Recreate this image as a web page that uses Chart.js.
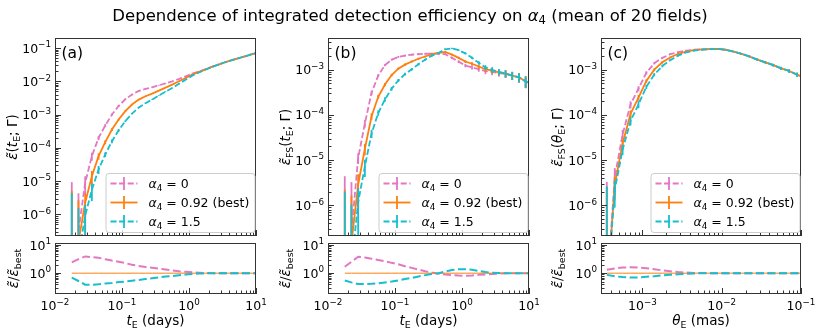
<!DOCTYPE html>
<html><head><meta charset="utf-8">
<script src="https://cdn.jsdelivr.net/npm/chart.js@4.4.0/dist/chart.umd.min.js"></script>
<style>
html,body{margin:0;padding:0;background:#fff;}
#wrap{position:relative;width:817px;height:329px;overflow:hidden;background:#fff;}
#wrap canvas{position:absolute;left:0;top:0;}
</style></head><body><div id="wrap"></div>
<script>
// ---------------- data ----------------
const tDays = [0.0178, 0.0224, 0.0282, 0.0355, 0.0447, 0.0562, 0.0708, 0.0891, 0.112, 0.141, 0.178, 0.224, 0.282, 0.355, 0.447, 0.562, 0.708, 0.891, 1.12, 1.41, 1.78, 2.24, 2.82, 3.55, 4.47, 5.62, 7.08, 8.91, 11.2];
const thetaMas = [3.55e-4, 4.47e-4, 5.62e-4, 7.08e-4, 8.91e-4, 1.12e-3, 1.41e-3, 1.78e-3, 2.24e-3, 2.82e-3, 3.55e-3, 4.47e-3, 5.62e-3, 7.08e-3, 8.91e-3, 1.12e-2, 1.41e-2, 1.78e-2, 2.24e-2, 2.82e-2, 3.55e-2, 4.47e-2, 5.62e-2, 7.08e-2, 8.91e-2, 0.112];

// panel (a): integrated efficiency vs tE
const effA_a0   = [null, 3.16e-7, 8.91e-6, 5.62e-5, 2.0e-4, 4.68e-4, 1.0e-3, 1.82e-3, 2.88e-3, 3.98e-3, 5.13e-3, 5.89e-3, 6.61e-3, 7.59e-3, 8.71e-3, 1.0e-2, 1.17e-2, 1.41e-2, 1.70e-2, 1.97e-2, 2.32e-2, 2.75e-2, 3.24e-2, 3.80e-2, 4.37e-2, 5.01e-2, 5.75e-2, 6.61e-2, 7.41e-2];
const effA_best = [null, 1.5e-7, 2.24e-6, 1.41e-5, 5.62e-5, 1.48e-4, 3.55e-4, 7.08e-4, 1.26e-3, 2.0e-3, 2.82e-3, 3.55e-3, 4.27e-3, 5.25e-3, 6.46e-3, 7.94e-3, 1.0e-2, 1.26e-2, 1.58e-2, 1.91e-2, 2.29e-2, 2.75e-2, 3.24e-2, 3.80e-2, 4.37e-2, 5.01e-2, 5.75e-2, 6.61e-2, 7.41e-2];
const effA_a15  = [null, 5.2e-8, 9.12e-7, 5.50e-6, 2.24e-5, 6.31e-5, 1.58e-4, 3.39e-4, 6.31e-4, 1.07e-3, 1.62e-3, 2.19e-3, 2.82e-3, 3.72e-3, 4.90e-3, 6.31e-3, 8.41e-3, 1.12e-2, 1.48e-2, 1.84e-2, 2.26e-2, 2.75e-2, 3.24e-2, 3.80e-2, 4.37e-2, 5.01e-2, 5.75e-2, 6.61e-2, 7.41e-2];
const errA_a0   = [9.3e-6, 4e-6, 5e-6, 1.5e-5, 3e-5, 5e-5, 8e-5, 1.2e-4, 1.5e-4, 1.6e-4, 1.8e-4, 2e-4, 2e-4, 2e-4, 2e-4, 2e-4, 2.3e-4, 2.8e-4, 3.4e-4, 4e-4, 5e-4, 6e-4, 7e-4, 9e-4, 1.1e-3, 1.3e-3, 1.6e-3, 2e-3, 2.5e-3];
const errA_best = [5e-6, 2.5e-6, 2e-6, 6e-6, 1.2e-5, 2e-5, 3.5e-5, 5e-5, 7e-5, 8e-5, 1e-4, 1.1e-4, 1.2e-4, 1.3e-4, 1.5e-4, 1.8e-4, 2.2e-4, 2.8e-4, 3.4e-4, 4e-4, 5e-4, 6e-4, 7e-4, 9e-4, 1.1e-3, 1.3e-3, 1.6e-3, 2e-3, 2.5e-3];
const errA_a15  = [4.3e-6, 1.5e-6, 1e-6, 3e-6, 6e-6, 1e-5, 2e-5, 3e-5, 4e-5, 5e-5, 6e-5, 7e-5, 8e-5, 1e-4, 1.2e-4, 1.5e-4, 2e-4, 2.6e-4, 3.2e-4, 4e-4, 5e-4, 6e-4, 7e-4, 9e-4, 1.1e-3, 1.3e-3, 1.6e-3, 2e-3, 2.5e-3];
const ratioA_a0   = [2.45, 3.16, 3.98, 3.72, 3.55, 3.16, 2.82, 2.57, 2.29, 2.0, 1.82, 1.66, 1.55, 1.45, 1.35, 1.26, 1.17, 1.12, 1.07, 1.035, 1.01, 1, 1, 1, 1, 1, 1, 1, 1];
const ratioA_best = [1, 1, 1, 1, 1, 1, 1, 1, 1, 1, 1, 1, 1, 1, 1, 1, 1, 1, 1, 1, 1, 1, 1, 1, 1, 1, 1, 1, 1];
const ratioA_a15  = [0.69, 0.525, 0.389, 0.38, 0.398, 0.427, 0.447, 0.479, 0.501, 0.537, 0.575, 0.617, 0.661, 0.708, 0.759, 0.794, 0.841, 0.891, 0.933, 0.966, 0.99, 1, 1, 1, 1, 1, 1, 1, 1];

// panel (b): finite-source efficiency vs tE
const effB_a0   = [null, 2.57e-7, 1.12e-5, 6.46e-5, 3.09e-4, 7.41e-4, 1.26e-3, 1.66e-3, 1.91e-3, 2.04e-3, 2.14e-3, 2.19e-3, 2.24e-3, 2.26e-3, 2.24e-3, 2.19e-3, 1.82e-3, 1.50e-3, 1.23e-3, 1.12e-3, 1.02e-3, 9.23e-4, 8.91e-4, 8.41e-4, 8.04e-4, 7.41e-4, 6.76e-4, 5.50e-4, 4.79e-4];
const effB_best = [null, 1.5e-7, 2.88e-6, 1.78e-5, 9.33e-5, 2.51e-4, 4.68e-4, 7.59e-4, 1.05e-3, 1.29e-3, 1.51e-3, 1.74e-3, 1.95e-3, 2.19e-3, 2.34e-3, 2.45e-3, 2.14e-3, 1.82e-3, 1.51e-3, 1.35e-3, 1.17e-3, 1.02e-3, 9.55e-4, 8.71e-4, 8.13e-4, 7.41e-4, 6.76e-4, 5.50e-4, 4.79e-4];
const effB_a15  = [null, 4.7e-8, 1.17e-6, 7.24e-6, 3.89e-5, 1.10e-4, 2.19e-4, 3.80e-4, 5.75e-4, 7.94e-4, 1.02e-3, 1.32e-3, 1.66e-3, 2.04e-3, 2.34e-3, 2.82e-3, 2.95e-3, 2.69e-3, 2.29e-3, 1.82e-3, 1.41e-3, 1.12e-3, 9.9e-4, 8.9e-4, 8.2e-4, 7.41e-4, 6.76e-4, 5.50e-4, 4.79e-4];
const errB_a0   = [4.4e-6, 3e-6, 3e-6, 1.2e-5, 3e-5, 5e-5, 7e-5, 8e-5, 9e-5, 1e-4, 1e-4, 1e-4, 1e-4, 1e-4, 1e-4, 1e-4, 1e-4, 1e-4, 1e-4, 1.1e-4, 1.2e-4, 1.3e-4, 1.4e-4, 1.4e-4, 1.5e-4, 1.5e-4, 1.6e-4, 1.6e-4, 1.6e-4];
const errB_best = [2.2e-6, 1.5e-6, 2e-6, 5e-6, 1.5e-5, 2.5e-5, 4e-5, 5e-5, 6e-5, 7e-5, 8e-5, 9e-5, 9e-5, 9e-5, 9e-5, 9e-5, 1e-4, 1e-4, 1e-4, 1.1e-4, 1.2e-4, 1.3e-4, 1.4e-4, 1.4e-4, 1.5e-4, 1.5e-4, 1.6e-4, 1.6e-4, 1.6e-4];
const errB_a15  = [2e-6, 1e-6, 1.2e-6, 3e-6, 8e-6, 1.5e-5, 2.5e-5, 3.5e-5, 4.5e-5, 5.5e-5, 6.5e-5, 7.5e-5, 8.5e-5, 1e-4, 1e-4, 1e-4, 1e-4, 1e-4, 1e-4, 1.1e-4, 1.2e-4, 1.3e-4, 1.4e-4, 1.4e-4, 1.5e-4, 1.5e-4, 1.6e-4, 1.6e-4, 1.6e-4];
const ratioB_a0   = [1.70, 2.57, 3.89, 3.63, 3.31, 2.95, 2.69, 2.34, 2.09, 1.78, 1.55, 1.35, 1.17, 1.05, 0.955, 0.891, 0.851, 0.822, 0.813, 0.832, 0.871, 0.902, 0.933, 0.966, 0.989, 1, 1, 1, 1];
const ratioB_best = [1, 1, 1, 1, 1, 1, 1, 1, 1, 1, 1, 1, 1, 1, 1, 1, 1, 1, 1, 1, 1, 1, 1, 1, 1, 1, 1, 1, 1];
const ratioB_a15  = [0.55, 0.468, 0.407, 0.407, 0.417, 0.437, 0.468, 0.501, 0.55, 0.617, 0.676, 0.759, 0.851, 0.933, 1.0, 1.148, 1.29, 1.38, 1.38, 1.32, 1.2, 1.096, 1.035, 1.01, 1, 1, 1, 1, 1];

// panel (c): finite-source efficiency vs thetaE
const effC_a0   = [1e-8, 4.17e-6, 3.72e-5, 1.70e-4, 3.80e-4, 8.51e-4, 1.38e-3, 1.82e-3, 2.19e-3, 2.45e-3, 2.63e-3, 2.75e-3, 2.82e-3, 2.85e-3, 2.88e-3, 2.75e-3, 2.51e-3, 2.24e-3, 1.95e-3, 1.66e-3, 1.45e-3, 1.26e-3, 1.07e-3, 9.33e-4, 7.76e-4, 6.61e-4];
const effC_best = [1e-8, 2.82e-6, 2.34e-5, 1.05e-4, 2.40e-4, 5.62e-4, 1.0e-3, 1.45e-3, 1.86e-3, 2.24e-3, 2.51e-3, 2.69e-3, 2.79e-3, 2.85e-3, 2.88e-3, 2.75e-3, 2.51e-3, 2.24e-3, 1.95e-3, 1.66e-3, 1.45e-3, 1.26e-3, 1.07e-3, 9.33e-4, 7.76e-4, 6.61e-4];
const effC_a15  = [1e-8, 2.19e-6, 1.70e-5, 7.33e-5, 1.70e-4, 4.17e-4, 7.76e-4, 1.20e-3, 1.62e-3, 2.04e-3, 2.40e-3, 2.63e-3, 2.75e-3, 2.85e-3, 2.88e-3, 2.75e-3, 2.51e-3, 2.24e-3, 1.95e-3, 1.66e-3, 1.45e-3, 1.26e-3, 1.07e-3, 9.33e-4, 7.76e-4, 6.61e-4];
const errC_a0   = [3.3e-6, 2.5e-6, 9e-6, 3e-5, 5e-5, 7e-5, 8e-5, 8e-5, 8e-5, 8e-5, 8e-5, 8e-5, 8e-5, 8e-5, 8e-5, 8e-5, 8e-5, 8e-5, 8e-5, 8e-5, 8e-5, 8e-5, 8e-5, 8e-5, 8e-5, 8e-5];
const errC_best = [2.5e-6, 1.5e-6, 5e-6, 2e-5, 3.5e-5, 5e-5, 7e-5, 8e-5, 8e-5, 8e-5, 8e-5, 8e-5, 8e-5, 8e-5, 8e-5, 8e-5, 8e-5, 8e-5, 8e-5, 8e-5, 8e-5, 8e-5, 8e-5, 8e-5, 8e-5, 8e-5];
const errC_a15  = [2.6e-6, 1.3e-6, 4e-6, 1.5e-5, 3e-5, 4.5e-5, 6e-5, 8e-5, 8e-5, 8e-5, 8e-5, 8e-5, 8e-5, 8e-5, 8e-5, 8e-5, 8e-5, 8e-5, 8e-5, 8e-5, 8e-5, 8e-5, 8e-5, 8e-5, 8e-5, 8e-5];
const ratioC_a0   = [1.32, 1.48, 1.58, 1.62, 1.58, 1.51, 1.38, 1.26, 1.17, 1.10, 1.05, 1.02, 1.01, 1, 1, 1, 1, 1, 1, 1, 1, 1, 1, 1, 1, 1];
const ratioC_best = [1, 1, 1, 1, 1, 1, 1, 1, 1, 1, 1, 1, 1, 1, 1, 1, 1, 1, 1, 1, 1, 1, 1, 1, 1, 1];
const ratioC_a15  = [0.87, 0.776, 0.724, 0.70, 0.708, 0.741, 0.776, 0.832, 0.871, 0.912, 0.955, 0.977, 0.99, 1, 1, 1, 1, 1, 1, 1, 1, 1, 1, 1, 1, 1];

// axis ranges
const xRangeT = [0.01, 10];
const xRangeTheta = [3.0e-4, 0.1];
const yRangeA = [2.24e-7, 0.2];
const yRangeBC = [2.1e-7, 5.0e-3];
const yRangeRatio = [0.18, 12];

// ---------------- text ----------------
const titleSegs = [{t:'Dependence of integrated detection efficiency on '},{t:'α',it:true},{t:'4',sub:true},{t:' (mean of 20 fields)'}];
const legA0 = [{t:'α',it:true},{t:'4',sub:true},{t:' = 0'}];
const legBest = [{t:'α',it:true},{t:'4',sub:true},{t:' = 0.92 (best)'}];
const legA15 = [{t:'α',it:true},{t:'4',sub:true},{t:' = 1.5'}];
const ylabA = [{t:'ε̃',it:true},{t:'('},{t:'t',it:true},{t:'E',sub:true},{t:'; Γ)'}];
const ylabB = [{t:'ε̃',it:true},{t:'FS',sub:true},{t:'('},{t:'t',it:true},{t:'E',sub:true},{t:'; Γ)'}];
const ylabC = [{t:'ε̃',it:true},{t:'FS',sub:true},{t:'('},{t:'θ',it:true},{t:'E',sub:true},{t:'; Γ)'}];
const ylabR = [{t:'ε̃',it:true},{t:'/'},{t:'ε̃',it:true},{t:'best',sub:true}];
const xlabT = [{t:'t',it:true},{t:'E',sub:true},{t:' (days)'}];
const xlabTheta = [{t:'θ',it:true},{t:'E',sub:true},{t:' (mas)'}];

// ---------------- rendering helpers ----------------
const W = 817, H = 329, YW = 45, XH = 20, TICKFS = 12.5;
const FONT = "'DejaVu Sans', sans-serif";
const PINK = '#e377c2', ORANGE = '#ff7f0e', CYAN = '#17becf';
const SUP = {'-':'⁻','0':'⁰','1':'¹','2':'²','3':'³','4':'⁴','5':'⁵','6':'⁶','7':'⁷','8':'⁸','9':'⁹'};
function isMajor(v){ const l = Math.log10(v); return Math.abs(l - Math.round(l)) < 1e-6; }
function decLabel(v){ const e = Math.round(Math.log10(v)); return '10' + String(e).split('').map(c => SUP[c]).join(''); }
function decSegs(v){ const e = Math.round(Math.log10(v)); return [{t:'10'},{t:String(e).replace('-', '−'), sup:true}]; }
function logTicks(min, max){
  const out = [];
  for (let e = Math.floor(Math.log10(min)); e <= Math.ceil(Math.log10(max)); e++) {
    for (let m = 1; m < 10; m++) { const v = m * Math.pow(10, e); if (v >= min * (1 - 1e-9) && v <= max * (1 + 1e-9)) out.push(v); }
  }
  return out;
}
function drawRich(ctx, segs, x, y, size, rot, align){
  ctx.save(); ctx.translate(x, y); if (rot) ctx.rotate(rot);
  ctx.textBaseline = 'alphabetic'; ctx.textAlign = 'left'; ctx.fillStyle = '#000';
  const fontOf = s => (s.it ? 'italic ' : '') + ((s.sub || s.sup) ? size * 0.7 : size) + 'px ' + FONT;
  let total = 0;
  for (const s of segs) { ctx.font = fontOf(s); total += ctx.measureText(s.t).width; }
  let cx = align === 'left' ? 0 : (align === 'right' ? -total : -total / 2);
  for (const s of segs) {
    ctx.font = fontOf(s);
    const dy = s.sub ? size * 0.2 : (s.sup ? -size * 0.42 : 0);
    ctx.fillText(s.t, cx, dy + size * 0.36);
    cx += ctx.measureText(s.t).width;
  }
  ctx.restore();
}
function drawLegend(ctx, a, series){
  const R = a.right - 1.5, L = R - 149, T = 173, B = 232;
  ctx.save();
  ctx.beginPath();
  if (ctx.roundRect) ctx.roundRect(L + 0.5, T + 0.5, R - L, B - T, 3); else ctx.rect(L + 0.5, T + 0.5, R - L, B - T);
  ctx.fillStyle = 'rgba(255,255,255,0.8)'; ctx.fill();
  ctx.strokeStyle = '#cccccc'; ctx.lineWidth = 1; ctx.stroke();
  series.forEach((s, i) => {
    const y = T + 10.5 + 19 * i;
    ctx.strokeStyle = s.color; ctx.lineWidth = s.lw; ctx.setLineDash(s.dash || []);
    ctx.beginPath(); ctx.moveTo(L + 5, y); ctx.lineTo(L + 32, y); ctx.stroke();
    ctx.setLineDash([]);
    ctx.beginPath(); ctx.moveTo(L + 18.5, y - 6.5); ctx.lineTo(L + 18.5, y + 6.5); ctx.stroke();
    drawRich(ctx, s.segs, L + 43, y, 12.5, 0, 'left');
  });
  ctx.restore();
}
function makeDeco(o){
  return {
    id: 'deco',
    afterDatasetDraw(chart, args){
      const ds = chart.data.datasets[args.index];
      if (!ds.errs) return;
      const ctx = chart.ctx, a = chart.chartArea, xs = chart.scales.x, ys = chart.scales.y;
      ctx.save();
      ctx.beginPath(); ctx.rect(a.left, a.top, a.right - a.left, a.bottom - a.top); ctx.clip();
      ctx.strokeStyle = ds.borderColor; ctx.lineWidth = ds.borderWidth; ctx.setLineDash([]);
      ds.data.forEach((p, i) => {
        const e = ds.errs[i]; if (!e) return;
        const v = p.y == null ? 0 : p.y;
        const px = xs.getPixelForValue(p.x);
        const yHi = ys.getPixelForValue(v + e);
        const yLo = (v - e) > 0 ? ys.getPixelForValue(v - e) : a.bottom + 10;
        ctx.beginPath(); ctx.moveTo(px, yLo); ctx.lineTo(px, yHi); ctx.stroke();
      });
      ctx.restore();
    },
    afterDraw(chart){
      const ctx = chart.ctx, a = chart.chartArea, xs = chart.scales.x, ys = chart.scales.y;
      ctx.save();
      ctx.strokeStyle = '#333'; ctx.lineWidth = 1;
      xs.ticks.forEach(t => {
        const px = Math.round(xs.getPixelForValue(t.value)) + 0.5;
        const L = isMajor(t.value) ? 6 : 3.5;
        ctx.beginPath(); ctx.moveTo(px, a.bottom); ctx.lineTo(px, a.bottom - L); ctx.stroke();
      });
      ys.ticks.forEach(t => {
        const py = Math.round(ys.getPixelForValue(t.value)) + 0.5;
        const L = isMajor(t.value) ? 6 : 3.5;
        ctx.beginPath(); ctx.moveTo(a.left, py); ctx.lineTo(a.left + L, py); ctx.stroke();
      });
      ctx.strokeStyle = '#333';
      ctx.strokeRect(a.left + 0.5, a.top + 0.5, a.right - a.left - 1, a.bottom - a.top - 1);
      ctx.restore();
      // tick labels (labels produced by the scales' tick callbacks), drawn with real superscripts
      if (o.xlabels) xs.ticks.forEach(t => { if (t.label) drawRich(ctx, decSegs(t.value), xs.getPixelForValue(t.value), 305.5, TICKFS); });
      ys.ticks.forEach(t => { if (t.label) drawRich(ctx, decSegs(t.value), a.left - 4, ys.getPixelForValue(t.value), TICKFS, 0, 'right'); });
      if (o.legend) drawLegend(ctx, a, o.series);
      if (o.panel) drawRich(ctx, [{t: o.panel}], a.left + 6.5, 52, 15.5, 0, 'left');
      if (o.ylabel) drawRich(ctx, o.ylabel, o.ylabelX, (a.top + a.bottom) / 2, 13.5, -Math.PI / 2);
      if (o.xlabel) drawRich(ctx, o.xlabel, (a.left + a.right) / 2, o.xlabelY, 13.5);
      if (o.title) drawRich(ctx, o.title, 410, 15, 16.5);
    }
  };
}
function axisCfg(axis, range){
  const [min, max] = range;
  return {
    type: 'logarithmic', min, max, position: axis === 'x' ? 'bottom' : 'left',
    grid: {display: false, drawTicks: false}, border: {display: false},
    afterBuildTicks: s => { s.ticks = logTicks(min, max).map(v => ({value: v})); },
    afterFit: s => { if (axis === 'x') s.height = XH; else s.width = YW; },
    ticks: {display: false, autoSkip: false, maxRotation: 0, minRotation: 0,
      padding: 4, color: '#000', font: {family: 'DejaVu Sans', size: TICKFS},
      callback: v => isMajor(v) ? decLabel(v) : ''}
  };
}
function addCanvas(){
  const c = document.createElement('canvas'); c.width = W; c.height = H;
  c.style.width = W + 'px'; c.style.height = H + 'px';
  document.getElementById('wrap').appendChild(c); return c.getContext('2d');
}
function panelChart(o){
  const ctx = addCanvas();
  const datasets = o.series.map(s => ({
    label: s.name, data: o.x.map((x, i) => ({x, y: s.y[i]})),
    borderColor: s.color, backgroundColor: s.color, borderWidth: s.lw, borderDash: s.dash || [],
    pointRadius: 0, pointHoverRadius: 0, tension: 0, fill: false, spanGaps: false, clip: 0,
    order: s.order, errs: s.err || null
  }));
  return new Chart(ctx, {
    type: 'line', data: {datasets},
    options: {
      responsive: false, animation: false, devicePixelRatio: 1, events: [],
      layout: {padding: {left: o.l - YW, right: W - o.r, top: o.t, bottom: H - o.b - XH}},
      plugins: {legend: {display: false}, tooltip: {enabled: false}, title: {display: false}},
      scales: {x: axisCfg('x', o.xr), y: axisCfg('y', o.yr)}
    },
    plugins: [makeDeco(o)]
  });
}

const DASH = [6, 2.6], RDASH = [8, 3.5];
function mainSeries(a0, best, a15, e0, eb, e15){
  return [
    {name: 'α4 = 0', y: a0, err: e0, color: PINK, lw: 1.8, dash: DASH, order: 3, segs: legA0},
    {name: 'α4 = 0.92 (best)', y: best, err: eb, color: ORANGE, lw: 1.8, order: 2, segs: legBest},
    {name: 'α4 = 1.5', y: a15, err: e15, color: CYAN, lw: 1.8, dash: DASH, order: 1, segs: legA15}
  ];
}
function ratioSeries(a0, best, a15){
  return [
    {name: 'α4 = 0', y: a0, color: PINK, lw: 2, dash: RDASH, order: 3},
    {name: 'α4 = 0.92 (best)', y: best, color: ORANGE, lw: 1, order: 2},
    {name: 'α4 = 1.5', y: a15, color: CYAN, lw: 2, dash: RDASH, order: 1}
  ];
}
const panels = [
  {l: 55, r: 256, x: tDays, xr: xRangeT, yr: yRangeA, main: mainSeries(effA_a0, effA_best, effA_a15, errA_a0, errA_best, errA_a15),
   ratio: ratioSeries(ratioA_a0, ratioA_best, ratioA_a15), panel: '(a)', ylabel: ylabA, ylx: 12.5, xlabel: xlabT, title: titleSegs},
  {l: 328, r: 529, x: tDays, xr: xRangeT, yr: yRangeBC, main: mainSeries(effB_a0, effB_best, effB_a15, errB_a0, errB_best, errB_a15),
   ratio: ratioSeries(ratioB_a0, ratioB_best, ratioB_a15), panel: '(b)', ylabel: ylabB, ylx: 285, xlabel: xlabT},
  {l: 601, r: 801, x: thetaMas, xr: xRangeTheta, yr: yRangeBC, main: mainSeries(effC_a0, effC_best, effC_a15, errC_a0, errC_best, errC_a15),
   ratio: ratioSeries(ratioC_a0, ratioC_best, ratioC_a15), panel: '(c)', ylabel: ylabC, ylx: 557, xlabel: xlabTheta}
];
panels.forEach(p => {
  panelChart({l: p.l, r: p.r, t: 38, b: 236, x: p.x, xr: p.xr, yr: p.yr, xlabels: false, series: p.main,
    legend: true, panel: p.panel, ylabel: p.ylabel, ylabelX: p.ylx, title: p.title || null});
  panelChart({l: p.l, r: p.r, t: 243, b: 294, x: p.x, xr: p.xr, yr: yRangeRatio, xlabels: true, series: p.ratio,
    legend: false, ylabel: ylabR, ylabelX: p.ylx + 0.5, xlabel: p.xlabel, xlabelY: 320});
});
</script></body></html>
